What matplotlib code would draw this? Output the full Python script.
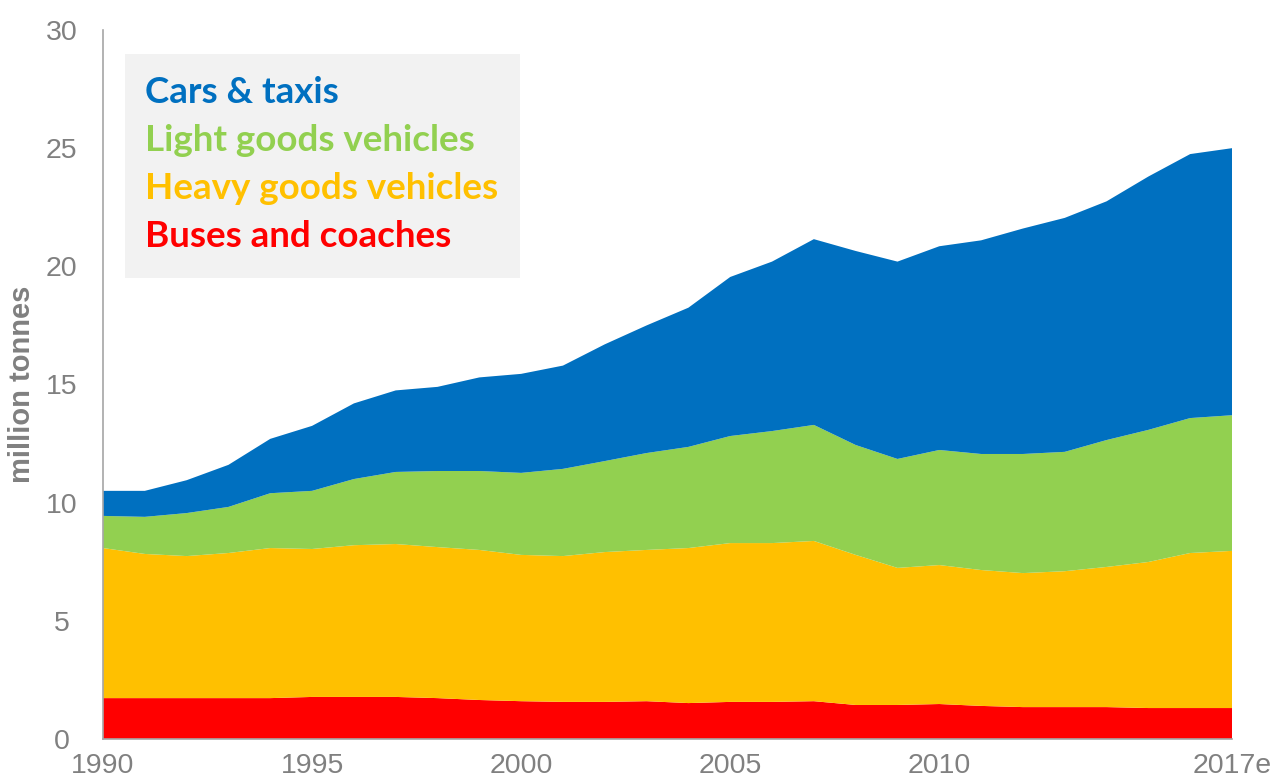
import matplotlib
matplotlib.use("Agg")
import matplotlib.pyplot as plt
from matplotlib.patches import Rectangle

years = list(range(1990, 2018))

buses = [1.73, 1.73, 1.73, 1.73, 1.73, 1.78, 1.78, 1.78, 1.73, 1.65,
         1.60, 1.57, 1.57, 1.60, 1.52, 1.57, 1.57, 1.60, 1.44, 1.44,
         1.48, 1.40, 1.35, 1.35, 1.35, 1.31, 1.31, 1.31]
hgv = [6.35, 6.10, 6.01, 6.14, 6.35, 6.26, 6.42, 6.47, 6.39, 6.35,
       6.19, 6.17, 6.34, 6.40, 6.56, 6.72, 6.72, 6.78, 6.35, 5.80,
       5.88, 5.75, 5.67, 5.75, 5.93, 6.18, 6.56, 6.65]
lgv = [1.36, 1.57, 1.82, 1.95, 2.32, 2.46, 2.80, 3.05, 3.22, 3.34,
       3.47, 3.69, 3.85, 4.10, 4.28, 4.53, 4.74, 4.91, 4.65, 4.61,
       4.87, 4.91, 5.04, 5.05, 5.37, 5.59, 5.71, 5.74]
cars = [1.06, 1.10, 1.39, 1.78, 2.30, 2.75, 3.20, 3.45, 3.56, 3.96,
        4.19, 4.37, 4.94, 5.40, 5.89, 6.73, 7.17, 7.86, 8.21, 8.35,
        8.62, 9.04, 9.54, 9.90, 10.10, 10.72, 11.17, 11.30]

series_names = ["Buses and coaches", "Heavy goods vehicles",
                "Light goods vehicles", "Cars & taxis"]
series_colors = ["#FF0000", "#FFC000", "#92D050", "#0070C0"]

xtick_years = [1990, 1995, 2000, 2005, 2010, 2017]
xtick_labels = ["1990", "1995", "2000", "2005", "2010", "2017e"]
yticks = [0, 5, 10, 15, 20, 25, 30]

grey = "#808080"

fig = plt.figure(figsize=(12.77, 7.84), dpi=100)
ax = fig.add_axes([103 / 1277, 1 - 739 / 784, (1232 - 103) / 1277, (739 - 30) / 784])

ax.stackplot(years, buses, hgv, lgv, cars, colors=series_colors,
             linewidth=0, antialiased=True)

ax.set_xlim(1990, 2017)
ax.set_ylim(0, 30)
ax.set_xticks(xtick_years)
ax.set_xticklabels(xtick_labels)
ax.set_yticks(yticks)
ax.tick_params(axis="both", length=0, labelsize=20.5, colors=grey,
               labelfontfamily="Liberation Sans")
ax.tick_params(axis="x", pad=10)
ax.tick_params(axis="y", pad=30)
for lbl in ax.get_yticklabels():
    lbl.set_horizontalalignment("center")

for side in ("top", "right"):
    ax.spines[side].set_visible(False)
for side in ("left", "bottom"):
    ax.spines[side].set_color("#A6A6A6")
    ax.spines[side].set_linewidth(1.2)

fig.text(22 / 1277, 1 - 384 / 784, "million tonnes", rotation=90,
         ha="center", va="center", fontsize=21, fontweight="bold",
         color=grey, family="Liberation Sans")

# Legend panel with coloured series names
fig.patches.append(Rectangle((125 / 1277, 1 - 278 / 784), (520 - 125) / 1277,
                             (278 - 54) / 784, transform=fig.transFigure,
                             facecolor="#F2F2F2", edgecolor="none", zorder=5))
legend_rows = [("Cars & taxis", "#0070C0", 103),
               ("Light goods vehicles", "#92D050", 151),
               ("Heavy goods vehicles", "#FFC000", 199),
               ("Buses and coaches", "#FF0000", 247)]
for text, color, ypx in legend_rows:
    fig.text(145 / 1277, 1 - ypx / 784, text, ha="left", va="baseline",
             fontsize=26.5, fontweight="bold", color=color, family="Lato",
             zorder=6)

fig.savefig("out.png", dpi=100)
